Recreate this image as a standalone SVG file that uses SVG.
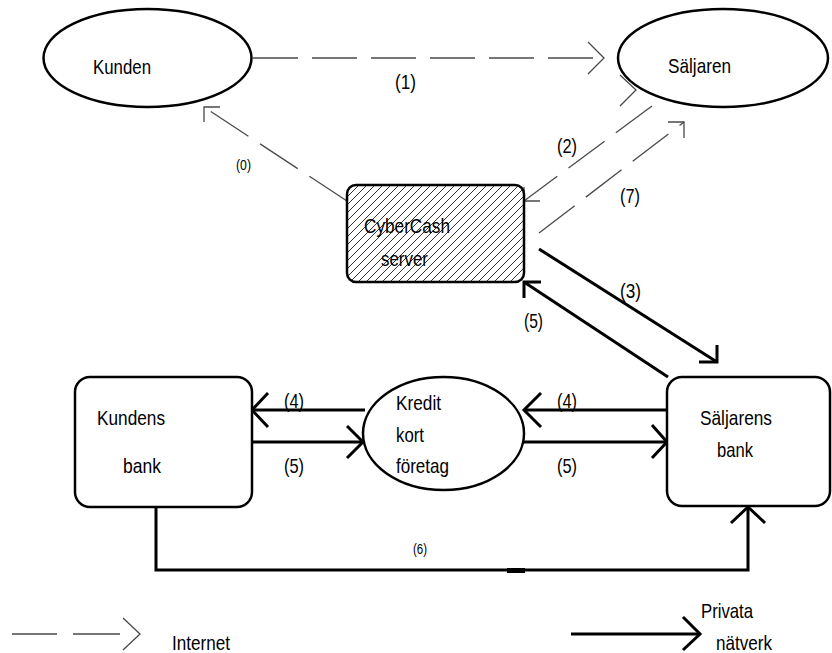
<svg xmlns="http://www.w3.org/2000/svg" width="832" height="653" viewBox="0 0 832 653">
<style>
.node{fill:#fff;stroke:#000;stroke-width:2.5}
.t{font-family:"Liberation Sans Narrow","Liberation Sans",Arial,sans-serif;font-size:21px;fill:#000}
.s{font-size:14px}
.dash{fill:none;stroke:#4a4a4a;stroke-width:1.3;stroke-dasharray:45 14}
.thin{fill:none;stroke:#4a4a4a;stroke-width:1.3}
.solid{fill:none;stroke:#000;stroke-width:3}
</style>
<defs>
<pattern id="hatch" patternUnits="userSpaceOnUse" width="8" height="8">
<rect width="8" height="8" fill="#fff"/>
<path d="M-2,2 L2,-2 M0,8 L8,0 M6,10 L10,6" stroke="#000" stroke-width="0.8"/>
</pattern>
</defs>
<rect width="832" height="653" fill="#fff"/>

<g id="connectors">
<path class="dash" d="M253,58 L602,58"/>
<path class="thin" d="M588,42 L604,58 L588,74"/>
<path class="dash" d="M347,201 L204,107"/>
<path class="thin" d="M204,122 L204,107 L220,107"/>
<path class="dash" d="M652,106 L524,201"/>
<path class="thin" d="M524,187 L524,201 L540,201"/>
<path class="thin" d="M620,75 L636,90 L620,106"/>
<path class="dash" d="M539,233 L684,122"/>
<path class="thin" d="M668,122 L684,122 L684,138"/>
<path class="solid" d="M539,249 L717,362"/>
<path class="solid" d="M699,362 L717,362 L717,345"/>
<path class="solid" d="M668,377 L524,282"/>
<path class="solid" d="M541,282 L524,282 L524,298"/>
<path class="solid" d="M365,410 L252,410"/>
<path class="solid" d="M268,393 L252,410 L268,427"/>
<path class="solid" d="M252,442 L363,442"/>
<path class="solid" d="M347,426 L363,442 L347,458"/>
<path class="solid" d="M667,410 L524,410"/>
<path class="solid" d="M541,393 L524,410 L541,427"/>
<path class="solid" d="M524,442 L667,442"/>
<path class="solid" d="M652,425 L667,442 L652,458"/>
<path class="solid" d="M156,507 L156,570 L748,570 L748,507"/>
<path class="solid" d="M731,523 L748,507 L765,523"/>
<rect x="507" y="568" width="18" height="5" fill="#000"/>
</g>

<g id="kunden">
<ellipse class="node" cx="147.5" cy="58" rx="104" ry="49"/>
<text class="t" x="93" y="74" textLength="58" lengthAdjust="spacingAndGlyphs">Kunden</text>
</g>

<g id="saljaren">
<ellipse class="node" cx="723" cy="58" rx="105" ry="49"/>
<text class="t" x="668" y="73" textLength="63" lengthAdjust="spacingAndGlyphs">Säljaren</text>
</g>

<g id="cybercash">
<rect x="347" y="185" width="177" height="97" rx="9" fill="url(#hatch)" stroke="#000" stroke-width="2.5"/>
<text class="t" x="364" y="233" textLength="86" lengthAdjust="spacingAndGlyphs">CyberCash</text>
<text class="t" x="381" y="266" textLength="47" lengthAdjust="spacingAndGlyphs">server</text>
</g>

<g id="kundens-bank">
<rect class="node" x="75" y="377" width="177" height="130" rx="15"/>
<text class="t" x="97" y="425" textLength="68" lengthAdjust="spacingAndGlyphs">Kundens</text>
<text class="t" x="123" y="473" textLength="38" lengthAdjust="spacingAndGlyphs">bank</text>
</g>

<g id="kredit">
<ellipse class="node" cx="443.5" cy="433.5" rx="80.5" ry="56.5"/>
<text class="t" x="396" y="410" textLength="45" lengthAdjust="spacingAndGlyphs">Kredit</text>
<text class="t" x="396" y="442" textLength="28" lengthAdjust="spacingAndGlyphs">kort</text>
<text class="t" x="396" y="473" textLength="53" lengthAdjust="spacingAndGlyphs">företag</text>
</g>

<g id="saljarens-bank">
<rect class="node" x="667" y="377" width="163" height="129" rx="15"/>
<text class="t" x="700" y="425" textLength="72" lengthAdjust="spacingAndGlyphs">Säljarens</text>
<text class="t" x="717" y="457" textLength="36" lengthAdjust="spacingAndGlyphs">bank</text>
</g>

<g id="labels">
<text class="t" x="395" y="89" textLength="21" lengthAdjust="spacingAndGlyphs">(1)</text>
<text class="t s" x="236" y="170" textLength="15" lengthAdjust="spacingAndGlyphs">(0)</text>
<text class="t" x="557" y="153" textLength="20" lengthAdjust="spacingAndGlyphs">(2)</text>
<text class="t" x="620" y="203" textLength="20" lengthAdjust="spacingAndGlyphs">(7)</text>
<text class="t" x="620" y="298" textLength="21" lengthAdjust="spacingAndGlyphs">(3)</text>
<text class="t" x="524" y="328" textLength="19" lengthAdjust="spacingAndGlyphs">(5)</text>
<text class="t" x="284" y="408" textLength="20" lengthAdjust="spacingAndGlyphs">(4)</text>
<text class="t" x="284" y="473" textLength="20" lengthAdjust="spacingAndGlyphs">(5)</text>
<text class="t" x="557" y="408" textLength="20" lengthAdjust="spacingAndGlyphs">(4)</text>
<text class="t" x="557" y="473" textLength="20" lengthAdjust="spacingAndGlyphs">(5)</text>
<text class="t s" x="413" y="554" textLength="14" lengthAdjust="spacingAndGlyphs">(6)</text>
</g>

<g id="legend">
<path class="thin" d="M12,634 L57,634 M73,634 L120,634"/>
<path class="thin" d="M123,618 L140,634 L123,650"/>
<text class="t" x="172" y="650" textLength="58" lengthAdjust="spacingAndGlyphs">Internet</text>
<path class="solid" d="M571,634 L700,634"/>
<path class="solid" d="M683,617 L700,634 L683,650"/>
<text class="t" x="701" y="618" textLength="52" lengthAdjust="spacingAndGlyphs">Privata</text>
<text class="t" x="716" y="650" textLength="56" lengthAdjust="spacingAndGlyphs">nätverk</text>
</g>
</svg>
